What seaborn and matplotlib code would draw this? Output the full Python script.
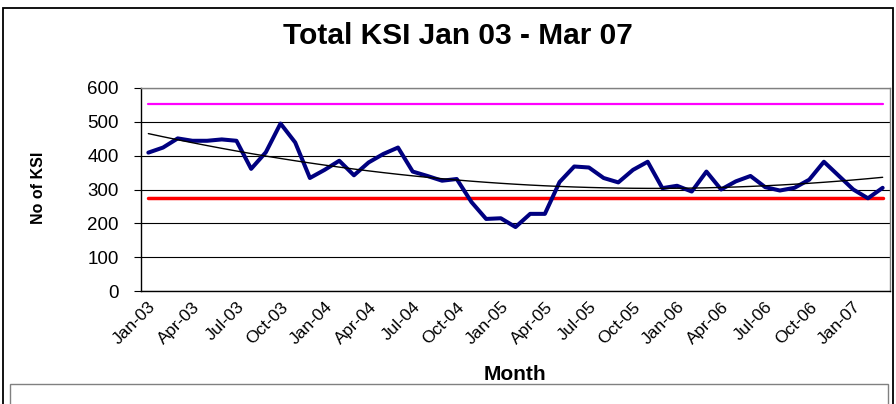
import numpy as np
import pandas as pd
import matplotlib
matplotlib.use("Agg")
import matplotlib.pyplot as plt
import seaborn as sns
from matplotlib.patches import Rectangle

# Monthly KSI counts, Jan-03 .. Mar-07
months = pd.date_range("2003-01-01", "2007-03-01", freq="MS").strftime("%b-%y").tolist()
ksi = [409, 424, 451, 444, 444, 448, 444, 361, 410, 495, 439, 334,
       358, 385, 342, 380, 405, 424, 353, 340, 326, 331, 263, 213,
       215, 189, 228, 228, 322, 368, 365, 334, 321, 358, 382, 304,
       311, 294, 353, 300, 324, 340, 307, 297, 305, 329, 382, 341,
       300, 274, 305]
upper_limit = 554
lower_limit = 276

df = pd.DataFrame({"month": months, "ksi": ksi})
df["pos"] = np.arange(len(df))
df["upper"] = upper_limit
df["lower"] = lower_limit
# polynomial trend line like the spreadsheet one
coef = np.polyfit(df["pos"], df["ksi"], 2)
df["trend"] = np.polyval(coef, df["pos"])

sns.set_theme(style="white")
plt.rcParams["font.family"] = ["Liberation Sans", "DejaVu Sans"]
plt.rcParams["text.color"] = "black"
plt.rcParams["xtick.color"] = "black"
plt.rcParams["ytick.color"] = "black"

fig = plt.figure(figsize=(8.96, 4.04), dpi=100)
ax = fig.add_axes([141 / 896, 1 - 291 / 404, (890 - 141) / 896, (291 - 88) / 404])

sns.lineplot(data=df, x="pos", y="upper", ax=ax, color="#FF00FF", linewidth=1.6)
sns.lineplot(data=df, x="pos", y="lower", ax=ax, color="#FF0000", linewidth=2.5)
sns.lineplot(data=df, x="pos", y="ksi", ax=ax, color="#000080", linewidth=2.9)
sns.lineplot(data=df, x="pos", y="trend", ax=ax, color="black", linewidth=1.0)

ax.set_xlim(-0.5, len(df) - 0.5)
ax.set_ylim(0, 600)
ax.set_yticks(range(0, 601, 100))
ax.yaxis.grid(True, color="black", linewidth=0.8)
ax.set_axisbelow(True)

# labels every third month, tick marks on category boundaries
label_pos = list(range(0, len(df), 3))
ax.set_xticks(label_pos)
ax.set_xticklabels([months[i] for i in label_pos], rotation=45, ha="right",
                   rotation_mode="anchor", fontsize=12.5)
ax.set_xticks(np.arange(-0.5, len(df), 3), minor=True)
ax.tick_params(axis="x", which="major", length=0, pad=6)
ax.tick_params(axis="x", which="minor", length=5, width=0.8, color="black", direction="out")
ax.tick_params(axis="y", length=5, width=0.8, color="black", direction="out",
               left=True, labelsize=13.5, pad=11)
ax.set_xlabel("")
ax.set_ylabel("")

for side in ["left", "bottom"]:
    ax.spines[side].set_color("black")
    ax.spines[side].set_linewidth(1.0)
for side in ["top", "right"]:
    ax.spines[side].set_color("#808080")
    ax.spines[side].set_linewidth(1.0)

fig.text(0.511, 0.912, "Total KSI Jan 03 - Mar 07", ha="center", va="center",
         fontsize=21.5, fontweight="bold")
fig.text(0.575, 0.074, "Month", ha="center", va="center", fontsize=15, fontweight="bold")
fig.text(0.0435, 0.535, "No of KSI", ha="center", va="center", rotation=90,
         fontsize=11.5, fontweight="bold")

# chart frame and the legend box cut off at the bottom
fig.patches.append(Rectangle((3 / 896, -0.05), 890 / 896, 1.05 - 8 / 404,
                             transform=fig.transFigure, fill=False,
                             edgecolor="black", linewidth=1.3))
fig.patches.append(Rectangle((10 / 896, -0.05), 878 / 896, 0.05 + 20 / 404,
                             transform=fig.transFigure, fill=False,
                             edgecolor="#808080", linewidth=1.0))

fig.savefig("out.png", dpi=100)
